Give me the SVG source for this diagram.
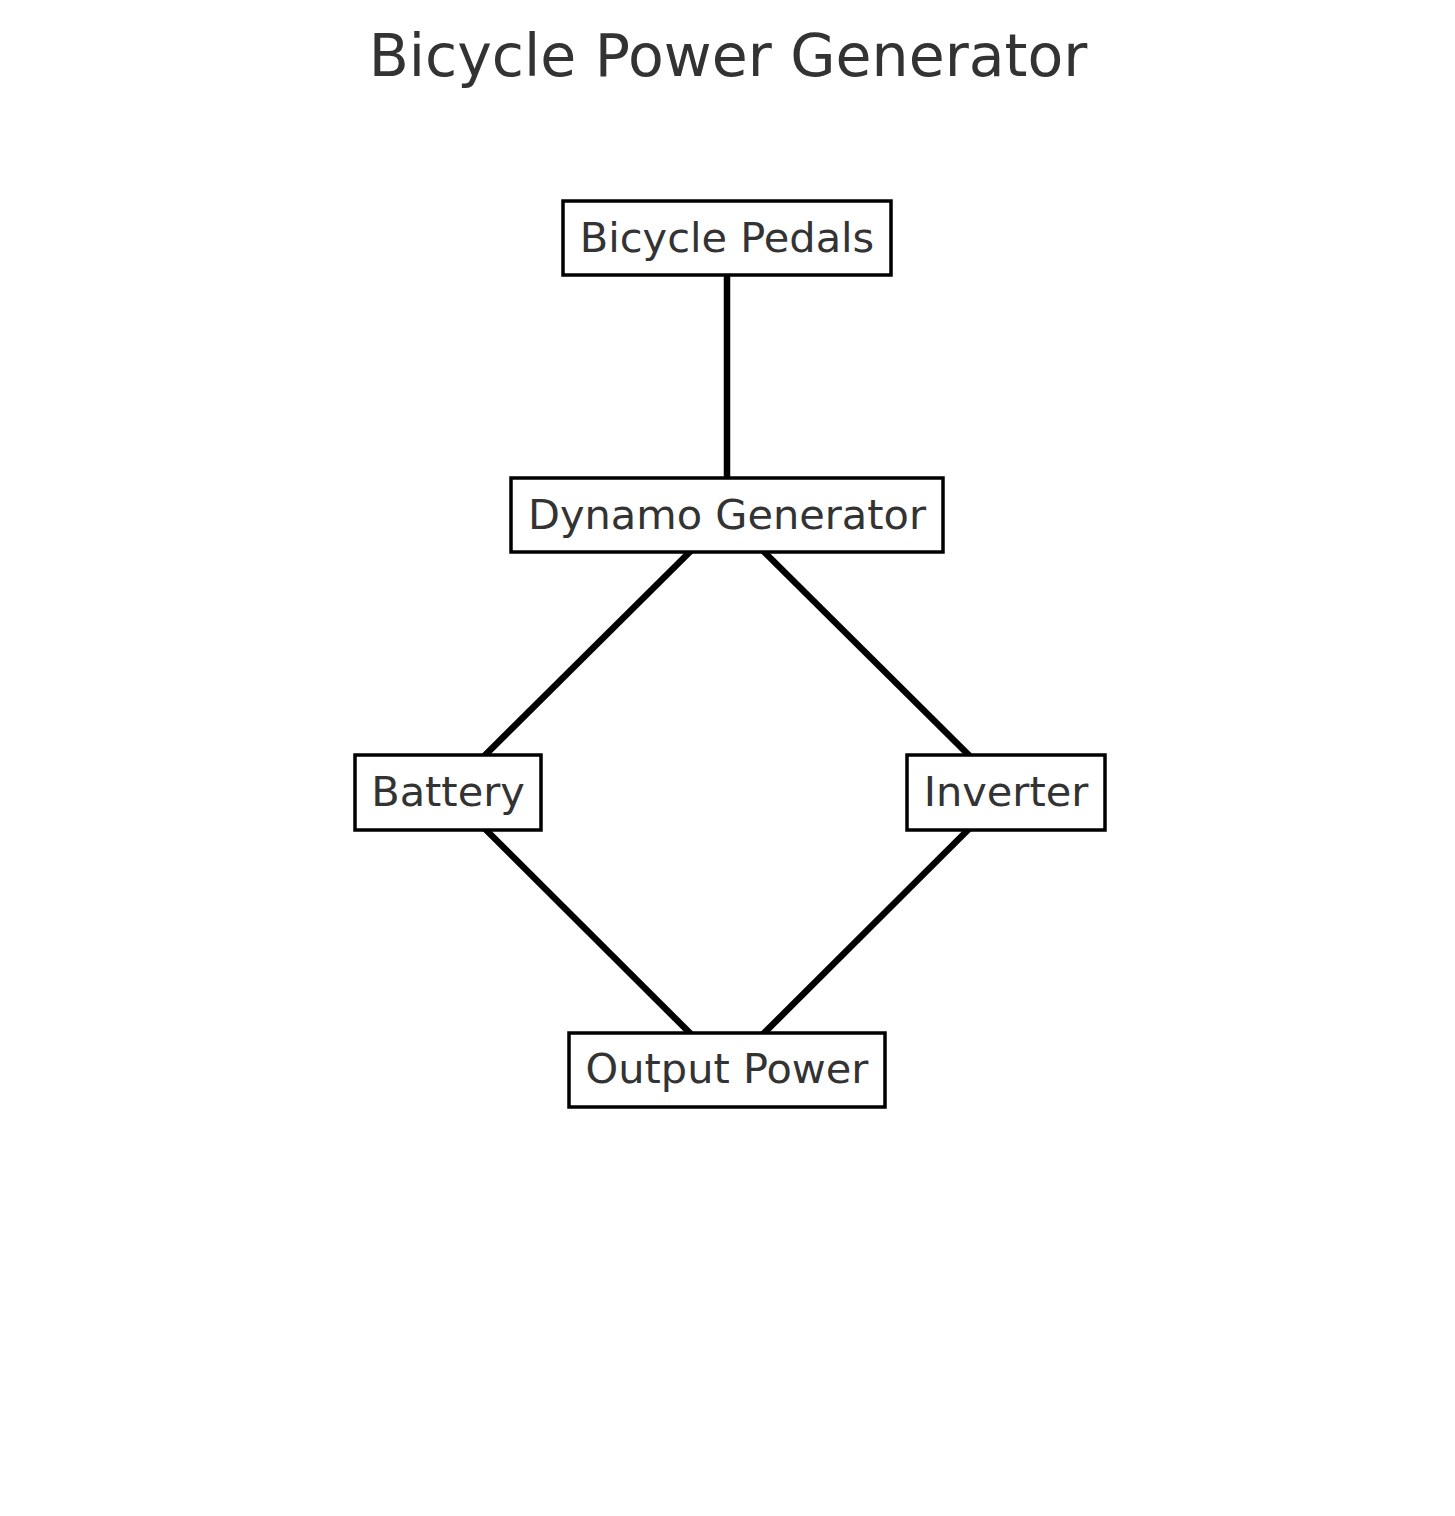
<svg xmlns="http://www.w3.org/2000/svg" width="1455" height="1516" viewBox="0 0 1455 1516">
<style>
text{font-family:"DejaVu Sans","Liberation Sans",sans-serif;fill:#333333;text-anchor:middle}
.lbl{font-size:41.5px}
.title{font-size:58.5px}
.box{fill:#ffffff;stroke:#000000;stroke-width:3.5}
.edge{stroke:#000000;stroke-width:6.5;fill:none}
</style>
<rect width="1455" height="1516" fill="#ffffff"/>
<text class="title" x="728" y="76">Bicycle Power Generator</text>
<g id="connectors">
<line class="edge" x1="727" y1="238" x2="727" y2="515"/>
<line class="edge" x1="727" y1="515" x2="448" y2="792"/>
<line class="edge" x1="727" y1="515" x2="1006" y2="792"/>
<line class="edge" x1="448" y1="792" x2="727" y2="1070"/>
<line class="edge" x1="1006" y1="792" x2="727" y2="1070"/>
</g>
<g id="node-pedals">
<rect class="box" x="563" y="201" width="328" height="74"/>
<text class="lbl" x="727" y="252">Bicycle Pedals</text>
</g>
<g id="node-dynamo">
<rect class="box" x="511" y="478" width="432" height="74"/>
<text class="lbl" x="727" y="529">Dynamo Generator</text>
</g>
<g id="node-battery">
<rect class="box" x="355" y="755" width="186" height="75"/>
<text class="lbl" x="448" y="806">Battery</text>
</g>
<g id="node-inverter">
<rect class="box" x="907" y="755" width="198" height="75"/>
<text class="lbl" x="1006" y="806">Inverter</text>
</g>
<g id="node-output">
<rect class="box" x="569" y="1033" width="316" height="74"/>
<text class="lbl" x="727" y="1083">Output Power</text>
</g>
</svg>
